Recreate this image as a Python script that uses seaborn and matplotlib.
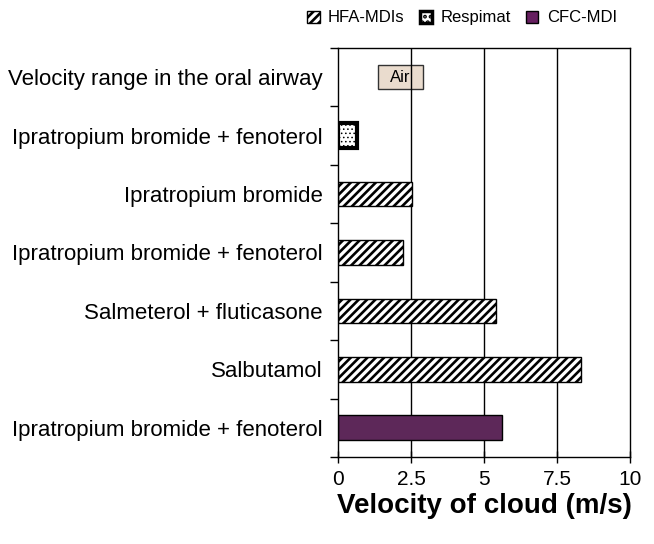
import numpy as np
import pandas as pd
import matplotlib
matplotlib.use('Agg')
import matplotlib.pyplot as plt
from matplotlib.patches import Patch
import seaborn as sns

# dados
row_labels = ['Velocity range in the oral airway',
              'Ipratropium bromide + fenoterol',
              'Ipratropium bromide',
              'Ipratropium bromide + fenoterol',
              'Salmeterol + fluticasone',
              'Salbutamol',
              'Ipratropium bromide + fenoterol']
row_keys = ['air', 'r1', 'r2', 'r3', 'r4', 'r5', 'r6']
bar_keys = ['r1', 'r2', 'r3', 'r4', 'r5', 'r6']
devices = ['Respimat', 'HFA-MDIs', 'HFA-MDIs', 'HFA-MDIs', 'HFA-MDIs', 'CFC-MDI']
velocity = [0.65, 2.53, 2.23, 5.41, 8.32, 5.62]
air_range = [1.37, 2.91]
legend_order = ['HFA-MDIs', 'Respimat', 'CFC-MDI']

purple = '#661f60'
sns.set_style('white')
plt.rcParams['font.family'] = ['Liberation Sans', 'DejaVu Sans']
plt.rcParams['text.color'] = 'black'
plt.rcParams['xtick.color'] = 'black'
plt.rcParams['ytick.color'] = 'black'
plt.rcParams['axes.labelcolor'] = 'black'
plt.rcParams['hatch.linewidth'] = 1.9

df = pd.DataFrame({'row': bar_keys, 'device': devices, 'v': velocity})

fig = plt.figure(figsize=(6.54, 5.44), dpi=100)
ax = fig.add_axes([0.517, 0.160, 0.446, 0.752])

sns.barplot(data=df, x='v', y='row', hue='device', order=row_keys,
            hue_order=legend_order, dodge=False, width=0.42, orient='h',
            palette={'HFA-MDIs': 'white', 'Respimat': 'white', 'CFC-MDI': purple},
            edgecolor='black', linewidth=1.0, legend=False, ax=ax, zorder=2)

hatches = {'HFA-MDIs': '////', 'Respimat': '....', 'CFC-MDI': ''}
for cont, dev in zip(ax.containers, legend_order):
    for p in cont:
        p.set_hatch(hatches[dev])
        if dev == 'Respimat':
            p.set_linewidth(3.0)
            if hasattr(p, 'set_hatch_linewidth'):
                p.set_hatch_linewidth(0.6)

# faixa de velocidade do ar
ax.barh(0, air_range[1] - air_range[0], left=air_range[0], height=0.42,
        color='#eadcce', edgecolor='#333333', linewidth=1.0, zorder=0.3)
ax.text(np.mean(air_range), 0, 'Air', ha='center', va='center', fontsize=12, zorder=3)

for xv in [2.5, 5, 7.5]:
    ax.axvline(xv, color='black', lw=1.0, zorder=1)

ax.set_xlim(0, 10)
ax.set_ylim(6.5, -0.5)
ax.set_xticks([0, 2.5, 5, 7.5, 10])
ax.set_xticklabels(['0', '2.5', '5', '7.5', '10'], fontsize=15)
ax.set_yticks(range(len(row_labels)))
ax.set_yticklabels(row_labels, fontsize=16)
ax.set_yticks(np.arange(-0.5, 7, 1), minor=True)
ax.tick_params(axis='y', which='major', length=0, pad=11)
ax.tick_params(axis='y', which='minor', length=6, width=1, direction='out', left=True)
ax.tick_params(axis='x', which='major', length=9, width=1, direction='inout', bottom=True, pad=5)
ax.set_ylabel('')
ax.set_xlabel('Velocity of cloud (m/s)', fontsize=20, fontweight='bold', labelpad=3)
for s in ax.spines.values():
    s.set_color('black')
    s.set_linewidth(1.0)

handles = [Patch(facecolor='white', edgecolor='black', hatch='////', label='HFA-MDIs'),
           Patch(facecolor='white', edgecolor='black', hatch='...', lw=2.5, label='Respimat'),
           Patch(facecolor=purple, edgecolor='black', label='CFC-MDI')]
if hasattr(handles[1], 'set_hatch_linewidth'):
    handles[1].set_hatch_linewidth(0.6)
fig.legend(handles=handles, loc='center right', bbox_to_anchor=(0.966, 0.967), ncol=3,
           frameon=False, fontsize=12, handlelength=0.75, handleheight=0.75,
           handletextpad=0.5, columnspacing=0.9)

plt.savefig('out.png', dpi=100)
